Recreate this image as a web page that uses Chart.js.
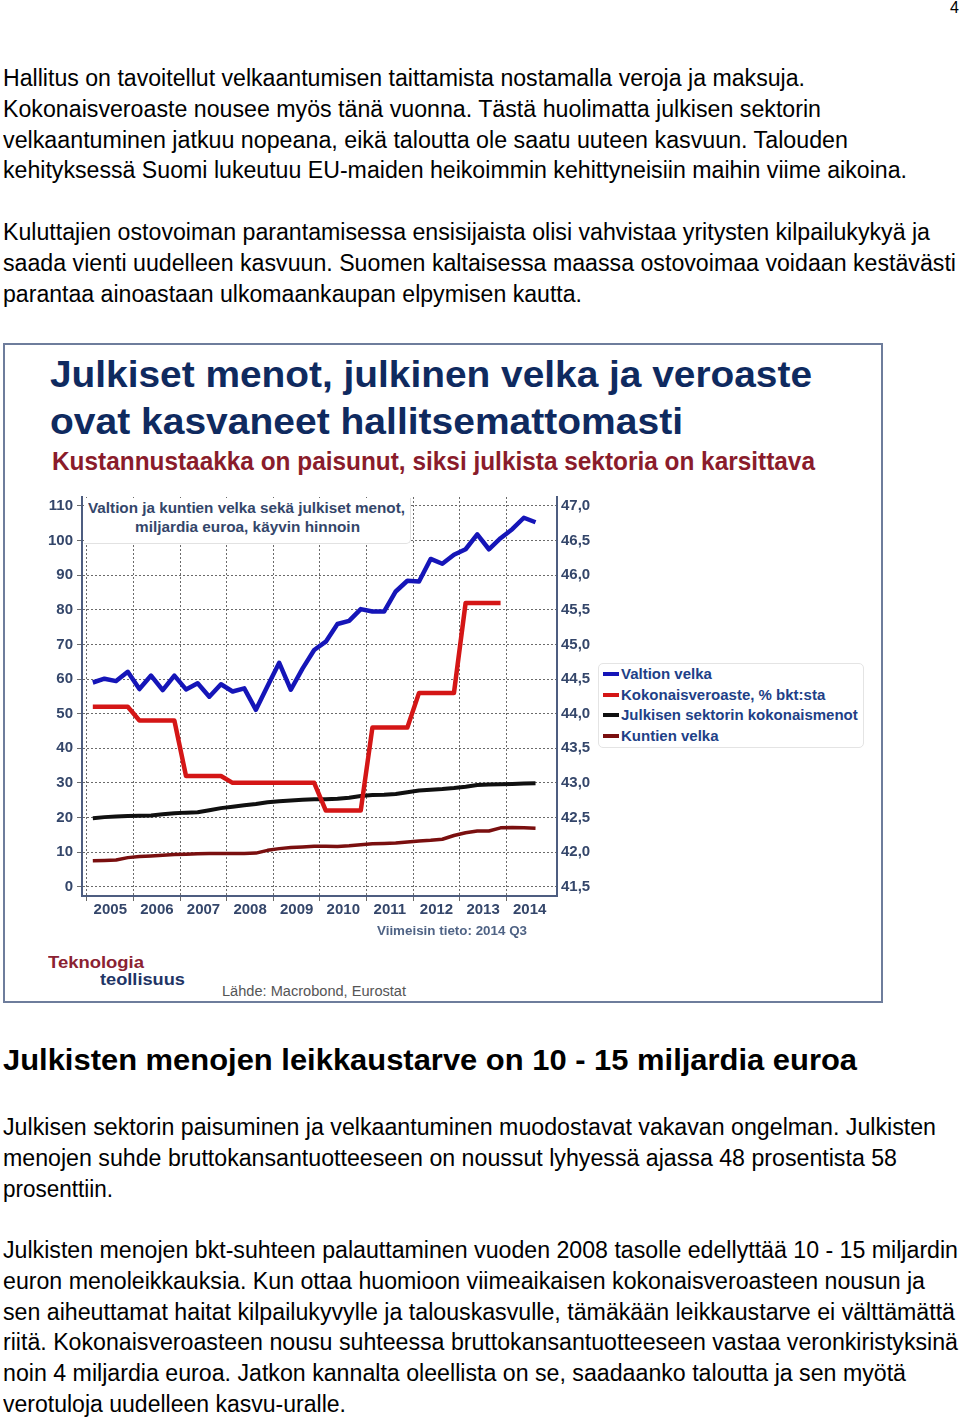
<!DOCTYPE html>
<html lang="fi"><head><meta charset="utf-8">
<script src="https://cdn.jsdelivr.net/npm/chart.js@4.4.1/dist/chart.umd.min.js"></script>
<style>
html,body{margin:0;padding:0;background:#fff}
body{position:relative;width:960px;height:1417px;overflow:hidden;font-family:"Liberation Sans",Arial,Helvetica,sans-serif;color:#000}
.t{position:absolute;white-space:nowrap;line-height:1;transform-origin:0 0;left:3px}
.p{font-size:23px}
.h{font-size:30px;font-weight:bold}
#box{position:absolute;left:3px;top:343px;width:880px;height:660px;border:2px solid #6e7d9c;box-sizing:border-box;background:#fff}
#cv{position:absolute;left:30px;top:480px;width:568px;height:460px}
#ibox{position:absolute;left:84px;top:498px;width:326px;height:45px;background:#fff;border-right:1px solid #e2e2e2;border-bottom:1px solid #e2e2e2;border-radius:0 0 5px 0}
.ct{font-weight:bold;color:#0f2a5f;font-size:37px}
.sub{font-weight:bold;color:#8a1c2b;font-size:26px;font-family:"Liberation Sans Narrow","Liberation Sans",Arial,sans-serif}
.it{font-weight:bold;color:#34466a;font-size:14px}
#legend{position:absolute;left:598px;top:663px;width:266px;height:85px;border:1px solid #e4e4e4;border-radius:5px;box-sizing:border-box;background:#fff}
.li{position:absolute;left:4px;height:20px;white-space:nowrap;font-weight:bold;font-size:15px;color:#213f87;line-height:20px}
.li i{display:inline-block;width:16px;height:4px;vertical-align:middle;margin-right:2px;position:relative;top:-1px}
</style>
</head>
<body>
<div class="t" style="font-size:16px;left:950px" data-b="14">4</div>

<div class="t p" data-b="86" data-w="802">Hallitus on tavoitellut velkaantumisen taittamista nostamalla veroja ja maksuja.</div>
<div class="t p" data-b="117" data-w="818">Kokonaisveroaste nousee myös tänä vuonna. Tästä huolimatta julkisen sektorin</div>
<div class="t p" data-b="148" data-w="845">velkaantuminen jatkuu nopeana, eikä taloutta ole saatu uuteen kasvuun. Talouden</div>
<div class="t p" data-b="178" data-w="904">kehityksessä Suomi lukeutuu EU-maiden heikoimmin kehittyneisiin maihin viime aikoina.</div>

<div class="t p" data-b="240" data-w="927">Kuluttajien ostovoiman parantamisessa ensisijaista olisi vahvistaa yritysten kilpailukykyä ja</div>
<div class="t p" data-b="271" data-w="953">saada vienti uudelleen kasvuun. Suomen kaltaisessa maassa ostovoimaa voidaan kestävästi</div>
<div class="t p" data-b="302" data-w="579">parantaa ainoastaan ulkomaankaupan elpymisen kautta.</div>

<div id="box"></div>
<div class="t ct" data-b="387" data-w="762" style="left:50px">Julkiset menot, julkinen velka ja veroaste</div>
<div class="t ct" data-b="434" data-w="633" style="left:50px">ovat kasvaneet hallitsemattomasti</div>
<div class="t sub" data-b="470" data-w="763" style="left:52px">Kustannustaakka on paisunut, siksi julkista sektoria on karsittava</div>

<canvas id="cv" width="568" height="460"></canvas>

<div id="ibox"></div>
<div class="t it" data-b="513" data-w="317" data-c="246.5">Valtion ja kuntien velka sekä julkiset menot,</div>
<div class="t it" data-b="532" data-w="225" data-c="247.5">miljardia euroa, käyvin hinnoin</div>

<div id="legend"></div>

<div class="t" style="font-size:13px;font-weight:bold;color:#4f6385;left:377px" data-b="935" data-w="150">Viimeisin tieto: 2014 Q3</div>
<div class="t" style="font-size:16px;font-weight:bold;color:#8b2232;left:48px" data-b="969" data-w="96">Teknologia</div>
<div class="t" style="font-size:16px;font-weight:bold;color:#1f3566;left:100px" data-b="986" data-w="85">teollisuus</div>
<div class="t" style="font-size:14px;color:#555;left:222px" data-b="996" data-w="184">Lähde: Macrobond, Eurostat</div>

<div class="t h" data-b="1070" data-w="854">Julkisten menojen leikkaustarve on 10 - 15 miljardia euroa</div>

<div class="t p" data-b="1135" data-w="933">Julkisen sektorin paisuminen ja velkaantuminen muodostavat vakavan ongelman. Julkisten</div>
<div class="t p" data-b="1166" data-w="894">menojen suhde bruttokansantuotteeseen on noussut lyhyessä ajassa 48 prosentista 58</div>
<div class="t p" data-b="1197" data-w="110">prosenttiin.</div>

<div class="t p" data-b="1258" data-w="955">Julkisten menojen bkt-suhteen palauttaminen vuoden 2008 tasolle edellyttää 10 - 15 miljardin</div>
<div class="t p" data-b="1289" data-w="922">euron menoleikkauksia. Kun ottaa huomioon viimeaikaisen kokonaisveroasteen nousun ja</div>
<div class="t p" data-b="1320" data-w="952">sen aiheuttamat haitat kilpailukyvylle ja talouskasvulle, tämäkään leikkaustarve ei välttämättä</div>
<div class="t p" data-b="1350" data-w="955">riitä. Kokonaisveroasteen nousu suhteessa bruttokansantuotteeseen vastaa veronkiristyksinä</div>
<div class="t p" data-b="1381" data-w="903">noin 4 miljardia euroa. Jatkon kannalta oleellista on se, saadaanko taloutta ja sen myötä</div>
<div class="t p" data-b="1412" data-w="343">verotuloja uudelleen kasvu-uralle.</div>

<script>
// ---- data (quarterly, 2005 Q1 - 2014 Q3) ----
const quarterLabels = [
  '2005Q1','2005Q2','2005Q3','2005Q4','2006Q1','2006Q2','2006Q3','2006Q4',
  '2007Q1','2007Q2','2007Q3','2007Q4','2008Q1','2008Q2','2008Q3','2008Q4',
  '2009Q1','2009Q2','2009Q3','2009Q4','2010Q1','2010Q2','2010Q3','2010Q4',
  '2011Q1','2011Q2','2011Q3','2011Q4','2012Q1','2012Q2','2012Q3','2012Q4',
  '2013Q1','2013Q2','2013Q3','2013Q4','2014Q1','2014Q2','2014Q3'
];
const valtionVelka = [
  59.0, 60.1, 59.4, 62.1, 57.1, 61.0, 56.8, 61.0,
  57.0, 58.8, 54.9, 58.5, 56.4, 57.3, 51.1, 58.0,
  64.7, 56.9, 63.0, 68.4, 70.8, 75.9, 76.8, 80.2,
  79.5, 79.5, 85.3, 88.4, 88.2, 94.7, 93.3, 95.9,
  97.5, 101.8, 97.5, 100.7, 103.3, 106.6, 105.3
];
const kokonaisveroaste = [
  44.1, 44.1, 44.1, 44.1, 43.9, 43.9, 43.9, 43.9,
  43.1, 43.1, 43.1, 43.1, 43.0, 43.0, 43.0, 43.0,
  43.0, 43.0, 43.0, 43.0, 42.6, 42.6, 42.6, 42.6,
  43.8, 43.8, 43.8, 43.8, 44.3, 44.3, 44.3, 44.3,
  45.6, 45.6, 45.6, 45.6
];
const kokonaismenot = [
  19.8, 20.1, 20.3, 20.4, 20.5, 20.6, 20.9, 21.2,
  21.4, 21.5, 22.1, 22.7, 23.1, 23.5, 23.9, 24.4,
  24.7, 24.9, 25.1, 25.3, 25.3, 25.4, 25.7, 26.2,
  26.5, 26.6, 26.8, 27.3, 27.8, 28.0, 28.2, 28.5,
  28.9, 29.4, 29.5, 29.6, 29.7, 29.8, 29.9
];
const kuntienVelka = [
  7.5, 7.6, 7.7, 8.4, 8.7, 8.9, 9.1, 9.3,
  9.4, 9.5, 9.6, 9.6, 9.6, 9.6, 9.7, 10.5,
  11.0, 11.3, 11.5, 11.7, 11.7, 11.6, 11.8, 12.1,
  12.4, 12.5, 12.6, 12.9, 13.2, 13.4, 13.7, 14.8,
  15.6, 16.1, 16.1, 17.0, 17.1, 17.0, 16.9
];
const yearTicks = [2005, 2006, 2007, 2008, 2009, 2010, 2011, 2012, 2013, 2014];
const leftTicks = [0, 10, 20, 30, 40, 50, 60, 70, 80, 90, 100, 110];
const rightTicks = [41.5, 42.0, 42.5, 43.0, 43.5, 44.0, 44.5, 45.0, 45.5, 46.0, 46.5, 47.0];
const seriesNames = ['Valtion velka', 'Kokonaisveroaste, % bkt:sta', 'Julkisen sektorin kokonaismenot', 'Kuntien velka'];

// quarter label -> position on a continuous year axis (middle of the quarter)
const qx = l => parseInt(l.slice(0, 4)) + (parseInt(l.slice(5)) - 0.5) / 4;
const pts = arr => arr.map((v, i) => ({ x: qx(quarterLabels[i]), y: v }));

// ---- text placement helpers ----
document.querySelectorAll('.t').forEach(el => {
  const fs = parseFloat(getComputedStyle(el).fontSize);
  el.style.top = (parseFloat(el.dataset.b) - 0.8465 * fs) + 'px';
  const w = el.getBoundingClientRect().width;
  let sx = 1;
  if (el.dataset.w) { sx = parseFloat(el.dataset.w) / w; el.style.transform = 'scaleX(' + sx + ')'; }
  if (el.dataset.c) { el.style.left = (parseFloat(el.dataset.c) - w * sx / 2) + 'px'; }
});

const axisColor = '#4d5d80';
const gridColor = '#6a6a6a';
const tickColor = '#34466a';
const tickFont = { family: '"Liberation Sans", Arial, sans-serif', size: 15, weight: 'bold' };

const chart = new Chart(document.getElementById('cv'), {
  type: 'line',
  data: {
    datasets: [
      { label: seriesNames[0], data: pts(valtionVelka), yAxisID: 'y', borderColor: '#1515b8', borderWidth: 4.5 },
      { label: seriesNames[1], data: pts(kokonaisveroaste), yAxisID: 'y1', borderColor: '#d41616', borderWidth: 4.5 },
      { label: seriesNames[2], data: pts(kokonaismenot), yAxisID: 'y', borderColor: '#101010', borderWidth: 4 },
      { label: seriesNames[3], data: pts(kuntienVelka), yAxisID: 'y', borderColor: '#7a0f0f', borderWidth: 3.5 }
    ]
  },
  options: {
    responsive: false,
    animation: false,
    parsing: false,
    elements: { point: { radius: 0 }, line: { tension: 0, borderJoinStyle: 'round', fill: false } },
    layout: { padding: { top: 17, left: 0, right: 0, bottom: 0 } },
    plugins: { legend: { display: false }, tooltip: { enabled: false }, title: { display: false } },
    scales: {
      x: {
        type: 'linear', min: 2004.893, max: 2015.086,
        afterBuildTicks: s => {
          s.ticks = [];
          yearTicks.forEach(y => { s.ticks.push({ value: y }); s.ticks.push({ value: y + 0.5 }); });
        },
        afterFit: s => { s.height = 44; },
        grid: {
          color: c => (c.tick && c.tick.value % 1 === 0) ? gridColor : 'rgba(0,0,0,0)',
          lineWidth: 1, tickLength: 5
        },
        border: { display: true, color: axisColor, width: 2, dash: [2, 2] },
        ticks: {
          autoSkip: false, maxRotation: 0, minRotation: 0, padding: 0,
          callback: v => (v % 1 !== 0) ? String(Math.floor(v)) : '',
          font: tickFont, color: tickColor
        }
      },
      y: {
        position: 'left', min: -2.69, max: 112.6,
        afterBuildTicks: s => { s.ticks = leftTicks.map(v => ({ value: v })); },
        afterFit: s => { s.width = 52; },
        grid: { color: gridColor, lineWidth: 1, tickLength: 5 },
        border: { display: true, color: axisColor, width: 2, dash: [2, 2] },
        ticks: { padding: 4, font: tickFont, color: tickColor, callback: v => String(v) }
      },
      y1: {
        position: 'right', min: 41.3655, max: 47.13,
        afterBuildTicks: s => { s.ticks = rightTicks.map(v => ({ value: v })); },
        afterFit: s => { s.width = 41; },
        grid: { drawOnChartArea: false, drawTicks: false },
        border: { display: true, color: axisColor, width: 2 },
        ticks: { padding: 4, font: tickFont, color: tickColor, callback: v => v.toFixed(1).replace('.', ',') }
      }
    }
  }
});

// legend built from the chart's own datasets
const lg = document.getElementById('legend');
chart.data.datasets.forEach((ds, i) => {
  const d = document.createElement('div');
  d.className = 'li';
  d.style.top = (0 + i * 20.7) + 'px';
  d.innerHTML = '<i style="background:' + ds.borderColor + '"></i>' + ds.label;
  lg.appendChild(d);
});
</script>
</body></html>
